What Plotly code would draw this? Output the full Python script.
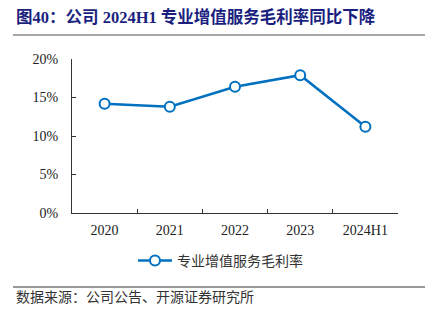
import plotly.graph_objects as go

categories = ["2020", "2021", "2022", "2023", "2024H1"]
margin_rate = [14.2, 13.8, 16.4, 17.9, 11.2]
series_name = "专业增值服务毛利率"
y_ticks = [0, 5, 10, 15, 20]
y_tick_labels = ["0%", "5%", "10%", "15%", "20%"]

W, H = 433, 322
L, R, T, B = 72, 35, 59, 109
pw, ph = W - L - R, H - T - B

def px(x):
    return (x - L) / pw

def py(y):
    return (H - B - y) / ph

blue = "#0070C0"
fig = go.Figure()
fig.add_trace(go.Scatter(
    x=categories, y=margin_rate, mode="lines+markers", name=series_name,
    line=dict(color=blue, width=2.5),
    marker=dict(symbol="circle", size=10, color="white", line=dict(color=blue, width=2)),
))

serif = "Liberation Serif, Times New Roman, Noto Sans CJK SC, serif"
fig.update_layout(
    width=W, height=H, margin=dict(l=L, r=R, t=T, b=B),
    paper_bgcolor="white", plot_bgcolor="white",
    font=dict(family=serif, size=14, color="#222"),
    showlegend=True,
    legend=dict(orientation="h", x=px(133), y=py(261), xanchor="left", yanchor="middle",
                font=dict(family="Noto Sans CJK SC", size=14, color="#333"),
                itemwidth=34),
    xaxis=dict(type="category", range=[-0.5, 4.5], showline=True, linecolor="#333", linewidth=1,
               ticks="inside", ticklen=4, tickcolor="#333", tickson="boundaries",
               ticklabelstandoff=4,
               showgrid=False, tickfont=dict(family=serif, size=14, color="#222")),
    yaxis=dict(range=[0, 20], tickvals=y_ticks, ticktext=y_tick_labels, showline=True,
               linecolor="#333", linewidth=1, ticks="inside", ticklen=4, tickcolor="#333",
               ticklabelstandoff=10,
               showgrid=False, zeroline=False, tickfont=dict(family=serif, size=14, color="#222")),
)

fig.add_annotation(text="<b>图40：公司 2024H1 专业增值服务毛利率同比下降</b>",
                   xref="paper", yref="paper", x=px(14), y=py(17), xanchor="left", yanchor="middle",
                   showarrow=False, font=dict(family="Liberation Serif, Noto Sans CJK SC", size=16.5, color="#1a1f80"))
fig.add_shape(type="line", xref="paper", yref="paper", x0=px(13), x1=px(425), y0=py(35), y1=py(35),
              line=dict(color="#888", width=1.5))
fig.add_shape(type="line", xref="paper", yref="paper", x0=px(13), x1=px(425), y0=py(287), y1=py(287),
              line=dict(color="#333", width=1))
fig.add_annotation(text="数据来源：公司公告、开源证券研究所",
                   xref="paper", yref="paper", x=px(14), y=py(296), xanchor="left", yanchor="middle",
                   showarrow=False, font=dict(family="Noto Sans CJK SC", size=14, color="#333"))

fig.write_html("out.html")
